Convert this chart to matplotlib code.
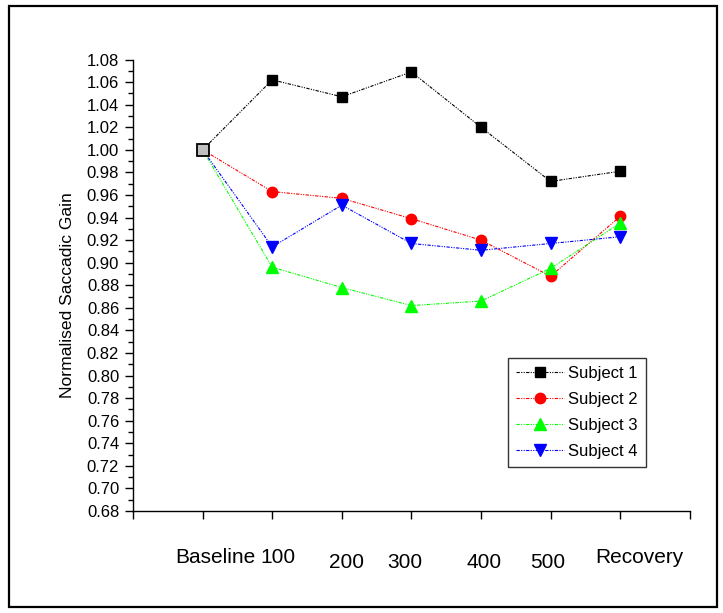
import matplotlib.pyplot as plt
import matplotlib.patches as mpatches
from matplotlib.ticker import MultipleLocator, FormatStrFormatter

plt.rcParams['font.family'] = ['Liberation Sans', 'DejaVu Sans']

# data
conditions = ["Baseline", "100", "200", "300", "400", "500", "Recovery"]
x_pos = [1, 2, 3, 4, 5, 6, 7]
baseline = 1.00
subject1 = [1.00, 1.062, 1.047, 1.069, 1.020, 0.972, 0.981]
subject2 = [1.00, 0.963, 0.957, 0.939, 0.920, 0.888, 0.941]
subject3 = [1.00, 0.896, 0.878, 0.862, 0.866, 0.895, 0.935]
subject4 = [1.00, 0.914, 0.951, 0.917, 0.911, 0.917, 0.923]

# label placement (Origin style, offset from ticks)
label_x = [1.18, 2.08, 3.07, 3.91, 5.04, 5.96, 7.27]
label_low = [False, False, True, True, True, True, False]

fig = plt.figure(figsize=(7.23, 6.13), dpi=100)
ax = fig.add_axes([0.184, 0.1664, 0.770, 0.7365])

# outer frame
fig.patches.append(mpatches.Rectangle((0.013, 0.009), 0.979, 0.982, transform=fig.transFigure,
                                      fill=False, edgecolor='black', linewidth=1.6))

ls = (0, (3, 1.2, 1, 1.2, 1, 1.2))
series = [
    (subject1, 'black', 's', 6.5, "Subject 1"),
    (subject2, 'red', 'o', 7.5, "Subject 2"),
    (subject3, '#00ff00', '^', 8.5, "Subject 3"),
    (subject4, 'blue', 'v', 8.5, "Subject 4"),
]
for vals, col, mk, ms, lab in series:
    ax.plot(x_pos, vals, color=col, linestyle=ls, linewidth=0.8, marker=mk,
            markersize=ms, markevery=slice(1, None), label=lab)

# baseline marker
ax.plot([x_pos[0]], [baseline], marker='s', markersize=8, markerfacecolor='#c0c0c0',
        markeredgecolor='black', markeredgewidth=1.3, linestyle='none', zorder=5)

ax.set_xlim(0, 8)
ax.set_ylim(0.68, 1.08)
ax.yaxis.set_major_locator(MultipleLocator(0.02))
ax.yaxis.set_minor_locator(MultipleLocator(0.01))
ax.yaxis.set_major_formatter(FormatStrFormatter('%.2f'))
ax.xaxis.set_major_locator(MultipleLocator(1))
ax.set_xticklabels([])
ax.tick_params(axis='x', direction='out', length=6, width=1, labelbottom=False)
ax.tick_params(axis='y', which='major', direction='out', length=6, width=1, labelsize=12, pad=4)
ax.tick_params(axis='y', which='minor', direction='out', length=3.6, width=1)

for side in ['top', 'right']:
    ax.spines[side].set_visible(False)
for side in ['left', 'bottom']:
    ax.spines[side].set_linewidth(1)

ax.set_ylabel("Normalised Saccadic Gain", fontsize=12.6)
ax.yaxis.set_label_coords(-0.104, 0.478)

for txt, lx, low in zip(conditions, label_x, label_low):
    ax.text(lx, -0.115 if low else -0.102, txt, transform=ax.get_xaxis_transform(),
            ha='center', va='center', fontsize=15)

leg = ax.legend(loc='upper left', bbox_to_anchor=(0.673, 0.339), borderaxespad=0,
                fontsize=12, frameon=True, fancybox=False, handlelength=2.9,
                handletextpad=0.2, labelspacing=0.65, borderpad=0.5)
leg.get_frame().set_edgecolor('black')
leg.get_frame().set_linewidth(1)

fig.savefig("out.png", dpi=100)
